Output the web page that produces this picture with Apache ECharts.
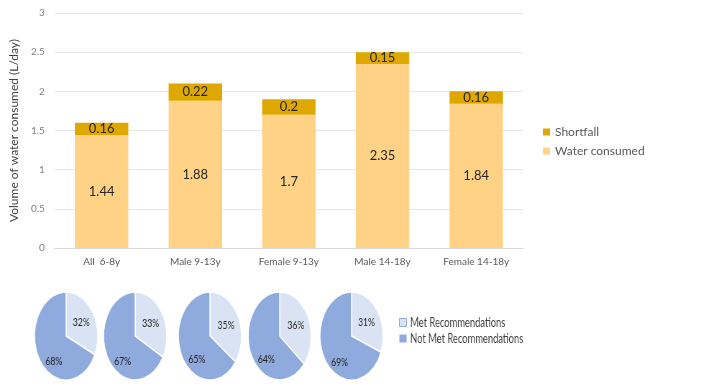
<!DOCTYPE html>
<html>
<head>
<meta charset="utf-8">
<script src="https://cdn.jsdelivr.net/npm/echarts@6/dist/echarts.min.js"></script>
<style>
  html, body { margin: 0; padding: 0; background: #fff; }
  #wrap { position: relative; width: 719px; height: 392px; overflow: hidden; }
  #bars { position: absolute; left: 0; top: 0; width: 719px; height: 392px; }
  /* the pies in the original are squashed sideways */
  #pies { position: absolute; left: 0; top: 280px; width: 1000px; height: 112px;
          transform: scaleX(0.719); transform-origin: 0 0; }
</style>
</head>
<body>
<div id="wrap">
  <div id="bars"></div>
  <div id="pies"></div>
</div>
<script>
var groups = ['All  6-8y', 'Male 9-13y', 'Female 9-13y', 'Male 14-18y', 'Female 14-18y'];
var waterConsumed = [1.44, 1.88, 1.7, 2.35, 1.84];
var shortfall = [0.16, 0.22, 0.2, 0.15, 0.16];
var yTicks = [0, 0.5, 1, 1.5, 2, 2.5, 3];
var metPct = [32, 33, 35, 36, 31];
var notMetPct = [68, 67, 65, 64, 69];

var font = 'Lato, "Open Sans", sans-serif';

// bar chart
var barChart = echarts.init(document.getElementById('bars'));
barChart.setOption({
  textStyle: { fontFamily: font },
  grid: { left: 47, right: 196, top: 13, bottom: 144 },
  legend: {
    data: ['Shortfall', 'Water consumed'],
    orient: 'vertical',
    left: 538,
    top: 121,
    itemWidth: 7,
    itemHeight: 7,
    itemGap: 7,
    icon: 'rect',
    textStyle: { fontSize: 12, color: '#595959', fontFamily: font }
  },
  xAxis: {
    type: 'category',
    data: groups,
    axisLine: { lineStyle: { color: '#d9d9d9' } },
    axisTick: { show: false },
    axisLabel: { color: '#595959', fontSize: 10, margin: 9, interval: 0 }
  },
  yAxis: {
    type: 'value',
    min: yTicks[0],
    max: yTicks[yTicks.length - 1],
    interval: yTicks[1] - yTicks[0],
    name: 'Volume of water consumed (L/day)',
    nameLocation: 'middle',
    nameGap: 30,
    nameTextStyle: { color: '#404040', fontSize: 12 },
    axisLine: { show: false },
    axisTick: { show: false },
    axisLabel: { color: '#808080', fontSize: 10, margin: 10 },
    splitLine: { lineStyle: { color: '#e6e6e6' } }
  },
  series: [
    {
      name: 'Water consumed',
      type: 'bar',
      stack: 'total',
      barWidth: '57%',
      data: waterConsumed,
      itemStyle: { color: '#ffd285' },
      label: { show: true, position: 'inside', color: '#262626', fontSize: 13 }
    },
    {
      name: 'Shortfall',
      type: 'bar',
      stack: 'total',
      data: shortfall,
      itemStyle: { color: '#dfa800' },
      label: { show: true, position: 'inside', color: '#262626', fontSize: 13 }
    }
  ]
});

// pies (drawn in a wider box, squeezed by css)
var pieChart = echarts.init(document.getElementById('pies'));
var centersX = [92, 188, 292, 389, 489];
var pieSeries = groups.map(function (g, i) {
  return {
    name: g,
    type: 'pie',
    center: [centersX[i], 56],
    radius: 44,
    startAngle: 90,
    clockwise: true,
    silent: true,
    itemStyle: { borderColor: '#fff', borderWidth: 1.5 },
    label: {
      show: true,
      position: 'inside',
      formatter: '{c}%',
      color: '#262626',
      fontSize: 12
    },
    labelLine: { show: false },
    data: [
      { name: 'Met Recommendations', value: metPct[i], itemStyle: { color: '#dae3f3' } },
      {
        name: 'Not Met Recommendations', value: notMetPct[i],
        itemStyle: { color: '#8faadc' },
        label: { offset: [4, 12] }
      }
    ]
  };
});
pieChart.setOption({
  textStyle: { fontFamily: font },
  legend: {
    data: [
      { name: 'Met Recommendations', itemStyle: { borderColor: '#8faadc', borderWidth: 1 } },
      { name: 'Not Met Recommendations', itemStyle: { borderWidth: 0 } }
    ],
    orient: 'vertical',
    left: 550,
    top: 31,
    icon: 'rect',
    itemWidth: 10,
    itemHeight: 8,
    itemGap: 3,
    textStyle: { fontSize: 13, color: '#404040', fontFamily: font }
  },
  series: pieSeries
});
</script>
</body>
</html>
